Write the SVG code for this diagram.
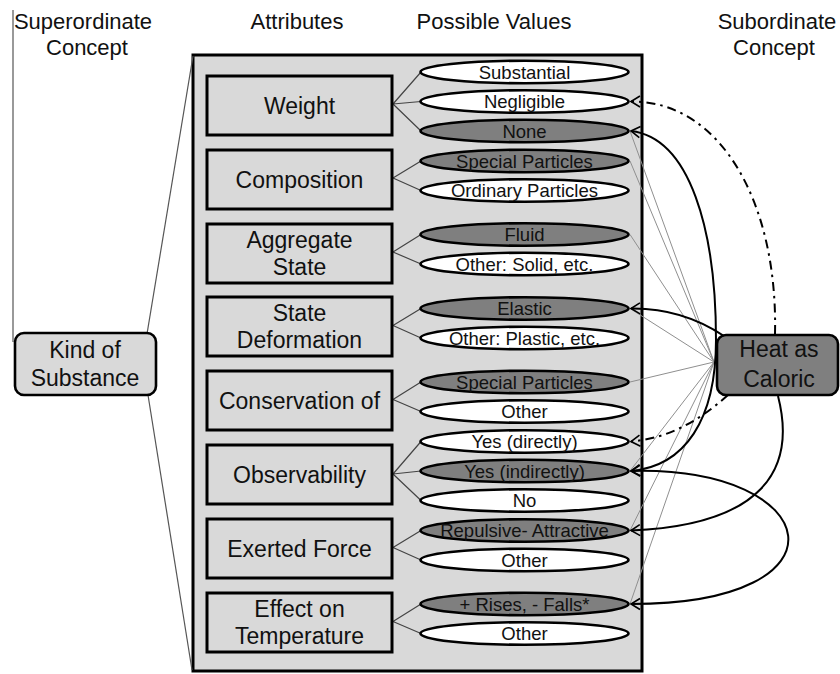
<svg xmlns="http://www.w3.org/2000/svg" width="840" height="674" viewBox="0 0 840 674">
  <defs>
    <style>
      .hdr { font-family: "Liberation Sans", Arial, sans-serif; font-size: 22px; fill: #111; text-anchor: middle; }
      .att { font-family: "Liberation Sans", Arial, sans-serif; font-size: 23px; fill: #111; text-anchor: middle; }
      .val { font-family: "Liberation Sans", Arial, sans-serif; font-size: 18.5px; fill: #111; text-anchor: middle; }
      .abox { fill: #d9d9d9; stroke: #000; stroke-width: 3; }
      .vw { fill: #fff; stroke: #000; stroke-width: 2.6; }
      .vd { fill: #7f7f7f; stroke: #000; stroke-width: 2.6; }
      .tie { stroke: #444; stroke-width: 1.2; fill: none; }
      .fan { stroke: #8f8f8f; stroke-width: 1; fill: none; }
      .link { stroke: #000; stroke-width: 2; fill: none; }
      .dd { stroke-dasharray: 9 5 2.5 5; }
    </style>
    <marker id="chev" viewBox="-12 -7 14 14" markerWidth="14" markerHeight="14" refX="0" refY="0"
            orient="auto-start-reverse" markerUnits="userSpaceOnUse" overflow="visible">
      <path d="M -9 -5.5 L 0 0 L -9 5.5" fill="none" stroke="#000" stroke-width="1.6"/>
    </marker>
  </defs>

  <rect width="840" height="674" fill="#fff"/>

  <!-- column headings -->
  <g id="headings">
    <text class="hdr" x="83" y="29">Superordinate</text>
    <text class="hdr" x="87" y="55">Concept</text>
    <text class="hdr" x="297" y="29">Attributes</text>
    <text class="hdr" x="494" y="29">Possible Values</text>
    <text class="hdr" x="777" y="29">Subordinate</text>
    <text class="hdr" x="774" y="55">Concept</text>
  </g>

  <!-- panel holding attributes and values -->
  <g id="panel">
    <rect x="193" y="55" width="449" height="616" fill="#d9d9d9" stroke="#000" stroke-width="3"/>
  </g>

  <!-- attribute / value ties -->
  <g id="ties">
    <path class="tie" d="M393 104 L421 72 M393 104 L421 101.5 M393 104 L421 131"/>
    <path class="tie" d="M393 178 L421 161 M393 178 L421 190.5"/>
    <path class="tie" d="M393 252 L421 234.5 M393 252 L421 264"/>
    <path class="tie" d="M393 325.5 L421 308.5 M393 325.5 L421 338"/>
    <path class="tie" d="M393 399.5 L421 382 M393 399.5 L421 411.5"/>
    <path class="tie" d="M393 474 L421 441.5 M393 474 L421 471 M393 474 L421 500.5"/>
    <path class="tie" d="M393 547.5 L421 530.5 M393 547.5 L421 560"/>
    <path class="tie" d="M393 621.5 L421 604 M393 621.5 L421 633.5"/>
  </g>

  <!-- superordinate concept -->
  <g id="kind-of-substance">
    <line x1="13" y1="10" x2="13" y2="342" stroke="#555" stroke-width="1.2"/>
    <line x1="147" y1="334" x2="193" y2="56" stroke="#555" stroke-width="1.2"/>
    <line x1="148" y1="395" x2="192" y2="670" stroke="#555" stroke-width="1.2"/>
    <rect x="15" y="333" width="141" height="62" rx="9" fill="#d9d9d9" stroke="#000" stroke-width="2.6"/>
    <text class="att" x="85" y="358">Kind of</text>
    <text class="att" x="85" y="386">Substance</text>
  </g>

  <!-- attributes -->
  <g id="attr-weight">
    <rect class="abox" x="207" y="76" width="185" height="59"/>
    <text class="att" x="299.5" y="113.7">Weight</text>
  </g>
  <g id="attr-composition">
    <rect class="abox" x="207" y="150" width="185" height="59"/>
    <text class="att" x="299.5" y="187.7">Composition</text>
  </g>
  <g id="attr-aggregate-state">
    <rect class="abox" x="207" y="224" width="185" height="59"/>
    <text class="att" x="299.5" y="248">Aggregate</text>
    <text class="att" x="299.5" y="274.6">State</text>
  </g>
  <g id="attr-state-deformation">
    <rect class="abox" x="207" y="297" width="185" height="59"/>
    <text class="att" x="299.5" y="321">State</text>
    <text class="att" x="299.5" y="347.6">Deformation</text>
  </g>
  <g id="attr-conservation">
    <rect class="abox" x="207" y="371" width="185" height="59"/>
    <text class="att" x="299.5" y="408.7">Conservation of</text>
  </g>
  <g id="attr-observability">
    <rect class="abox" x="207" y="445" width="185" height="59"/>
    <text class="att" x="299.5" y="482.7">Observability</text>
  </g>
  <g id="attr-exerted-force">
    <rect class="abox" x="207" y="519" width="185" height="59"/>
    <text class="att" x="299.5" y="556.7">Exerted Force</text>
  </g>
  <g id="attr-effect-temperature">
    <rect class="abox" x="207" y="593" width="185" height="59"/>
    <text class="att" x="299.5" y="617">Effect on</text>
    <text class="att" x="299.5" y="643.6">Temperature</text>
  </g>

  <!-- fan from the subordinate concept to its values -->
  <g id="fan">
    <path class="fan" d="M714 362 L630 131 M714 362 L630 161 M714 362 L630 234.5 M714 362 L630 308.5 M714 362 L630 382 M714 362 L630 471 M714 362 L630 530.5 M714 362 L630 604"/>
  </g>

  <!-- possible values -->
  <g id="val-substantial"><ellipse class="vw" cx="524.5" cy="72" rx="104" ry="11.3"/><text class="val" x="524.5" y="78.6">Substantial</text></g>
  <g id="val-negligible"><ellipse class="vw" cx="524.5" cy="101.5" rx="104" ry="11.3"/><text class="val" x="524.5" y="108.1">Negligible</text></g>
  <g id="val-none"><ellipse class="vd" cx="524.5" cy="131" rx="104" ry="11.3"/><text class="val" x="524.5" y="137.6">None</text></g>
  <g id="val-special-particles"><ellipse class="vd" cx="524.5" cy="161" rx="104" ry="11.3"/><text class="val" x="524.5" y="167.6">Special Particles</text></g>
  <g id="val-ordinary-particles"><ellipse class="vw" cx="524.5" cy="190.5" rx="104" ry="11.3"/><text class="val" x="524.5" y="197.1">Ordinary Particles</text></g>
  <g id="val-fluid"><ellipse class="vd" cx="524.5" cy="234.5" rx="104" ry="11.3"/><text class="val" x="524.5" y="241.1">Fluid</text></g>
  <g id="val-other-solid"><ellipse class="vw" cx="524.5" cy="264" rx="104" ry="11.3"/><text class="val" x="524.5" y="270.6">Other: Solid, etc.</text></g>
  <g id="val-elastic"><ellipse class="vd" cx="524.5" cy="308.5" rx="104" ry="11.3"/><text class="val" x="524.5" y="315.1">Elastic</text></g>
  <g id="val-other-plastic"><ellipse class="vw" cx="524.5" cy="338" rx="104" ry="11.3"/><text class="val" x="524.5" y="344.6">Other: Plastic, etc.</text></g>
  <g id="val-conserved-particles"><ellipse class="vd" cx="524.5" cy="382" rx="104" ry="11.3"/><text class="val" x="524.5" y="388.6">Special Particles</text></g>
  <g id="val-conserved-other"><ellipse class="vw" cx="524.5" cy="411.5" rx="104" ry="11.3"/><text class="val" x="524.5" y="418.1">Other</text></g>
  <g id="val-yes-directly"><ellipse class="vw" cx="524.5" cy="441.5" rx="104" ry="11.3"/><text class="val" x="524.5" y="448.1">Yes (directly)</text></g>
  <g id="val-yes-indirectly"><ellipse class="vd" cx="524.5" cy="471" rx="104" ry="11.3"/><text class="val" x="524.5" y="477.6">Yes (indirectly)</text></g>
  <g id="val-no"><ellipse class="vw" cx="524.5" cy="500.5" rx="104" ry="11.3"/><text class="val" x="524.5" y="507.1">No</text></g>
  <g id="val-repulsive-attractive"><ellipse class="vd" cx="524.5" cy="530.5" rx="104" ry="11.3"/><text class="val" x="524.5" y="537.1">Repulsive- Attractive</text></g>
  <g id="val-force-other"><ellipse class="vw" cx="524.5" cy="560" rx="104" ry="11.3"/><text class="val" x="524.5" y="566.6">Other</text></g>
  <g id="val-rises-falls"><ellipse class="vd" cx="524.5" cy="604" rx="104" ry="11.3"/><text class="val" x="524.5" y="610.6">+ Rises, - Falls*</text></g>
  <g id="val-temperature-other"><ellipse class="vw" cx="524.5" cy="633.5" rx="104" ry="11.3"/><text class="val" x="524.5" y="640.1">Other</text></g>

  <!-- subordinate concept -->
  <g id="heat-as-caloric">
    <rect x="717" y="335" width="121" height="60" rx="9" fill="#7f7f7f" stroke="#000" stroke-width="2.6"/>
    <text class="att" x="779" y="357">Heat as</text>
    <text class="att" x="779" y="387">Caloric</text>
  </g>

  <!-- curved connectors -->
  <g id="connectors">
    <path class="link dd" d="M775 334 C778 205 722 101 631 101.5" marker-end="url(#chev)"/>
    <path class="link dd" d="M728 395 C700 420 670 438 631 441.5" marker-end="url(#chev)"/>
    <path class="link" d="M724 336 C700 320 670 308 631 308.5" marker-end="url(#chev)"/>
    <path class="link" d="M631 131 C690 138 716 230 716 340 C716 420 685 466 631 471" marker-start="url(#chev)" marker-end="url(#chev)"/>
    <path class="link" d="M778 396 C797 470 762 525 631 530.5" marker-end="url(#chev)"/>
    <path class="link" d="M631 471 C825 466 856 604 631 604" marker-start="url(#chev)" marker-end="url(#chev)"/>
  </g>
</svg>
